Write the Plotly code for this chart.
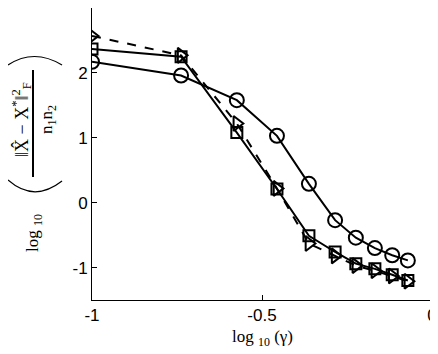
import plotly.graph_objects as go

# log10(gamma) grid
log_gamma = [-1.0, -0.738, -0.574, -0.456, -0.362, -0.285, -0.224, -0.168, -0.117, -0.071]

err_circle = [2.17, 1.96, 1.58, 1.03, 0.29, -0.27, -0.54, -0.70, -0.81, -0.89]
err_square = [2.37, 2.25, 1.08, 0.21, -0.51, -0.76, -0.94, -1.02, -1.11, -1.20]
err_triangle = [2.57, 2.27, 1.22, 0.22, -0.63, -0.82, -0.97, -1.05, -1.13, -1.21]

fig = go.Figure()
fig.add_trace(go.Scatter(x=log_gamma, y=err_triangle, mode='lines+markers',
    line=dict(color='black', width=2, dash='dash'),
    marker=dict(symbol='triangle-right-open', size=13, color='black', line=dict(width=2))))
fig.add_trace(go.Scatter(x=log_gamma, y=err_square, mode='lines+markers',
    line=dict(color='black', width=2),
    marker=dict(symbol='square-open', size=11, color='black', line=dict(width=2))))
fig.add_trace(go.Scatter(x=log_gamma, y=err_circle, mode='lines+markers',
    line=dict(color='black', width=2),
    marker=dict(symbol='circle-open', size=14, color='black', line=dict(width=2))))

# page body has an 8px margin, so the figure is shrunk by that much
OFF = 8
W, H = 438 - OFF, 354 - OFF
L, R, T, B = 92 - OFF, 6, 0, 54

def px(xp):
    return (xp - OFF - L) / (W - L - R)

def py(yp):
    return (H - B - (yp - OFF)) / (H - T - B)

def pt(xp, yp):
    return '%.4f,%.4f' % (px(xp), py(yp))

serif = dict(family='Liberation Serif', size=17, color='black')
ann = [
    dict(x=px(262), y=py(338), text='log <sub>10</sub> (γ)', font=serif),
    dict(x=px(34), y=py(233), text='log <sub>10</sub>', textangle=-90, font=serif),
    dict(x=px(21), y=py(120), text='‖X̂ − X<sup>*</sup>‖<sup>2</sup><sub>F</sub>', textangle=-90,
         font=dict(family='Liberation Serif', size=18, color='black')),
    dict(x=px(48), y=py(119), text='n<sub>1</sub>n<sub>2</sub>', textangle=-90,
         font=dict(family='Liberation Serif', size=17, color='black')),
]
for a in ann:
    a.update(xref='paper', yref='paper', showarrow=False, xanchor='center', yanchor='middle')

shapes = [
    dict(type='line', xref='paper', yref='paper', x0=px(33), x1=px(33),
         y0=py(177), y1=py(70), line=dict(color='black', width=2)),
    dict(type='path', xref='paper', yref='paper',
         path='M %s Q %s %s' % (pt(8, 65), pt(34, 48), pt(62, 65)),
         line=dict(color='black', width=1.2)),
    dict(type='path', xref='paper', yref='paper',
         path='M %s Q %s %s' % (pt(8, 180), pt(34, 203), pt(62, 181)),
         line=dict(color='black', width=1.2)),
]

fig.update_layout(
    width=W, height=H, margin=dict(l=L, r=R, t=T, b=B, autoexpand=False),
    plot_bgcolor='white', paper_bgcolor='white', showlegend=False,
    font=dict(family='Liberation Sans', size=17, color='black'),
    annotations=ann, shapes=shapes,
)
fig.update_xaxes(range=[-1, 0], tickvals=[-1, -0.5, 0], ticktext=['-1', '-0.5', '0'],
                 showline=True, mirror=True, linecolor='black', linewidth=1,
                 ticks='inside', ticklen=5, tickcolor='black', showgrid=False, zeroline=False,
                 automargin=False)
fig.update_yaxes(range=[-1.5, 3], tickvals=[-1, 0, 1, 2, 3], ticktext=['-1', '0', '1', '2', '3'],
                 showline=True, mirror=True, linecolor='black', linewidth=1,
                 ticks='inside', ticklen=5, tickcolor='black', showgrid=False, zeroline=False,
                 automargin=False)

fig.write_html("out.html")
